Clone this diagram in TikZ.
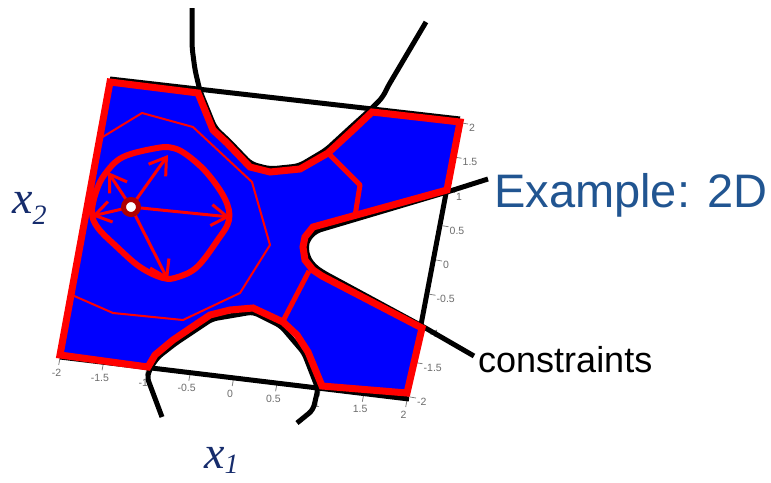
\documentclass[tikz,border=0pt]{standalone}
\usepackage{fontspec}
\setmainfont{Liberation Serif}
\setsansfont{Liberation Sans}
\usetikzlibrary{arrows.meta}
\definecolor{ttlblue}{RGB}{33,85,145}
\definecolor{axnavy}{RGB}{22,44,108}
\definecolor{ringred}{RGB}{175,0,0}
\definecolor{feasblue}{RGB}{0,0,255}
\definecolor{bordred}{RGB}{255,0,0}
\begin{document}
\begin{tikzpicture}[x=1pt,y=-1pt,
  cons/.style={line width=5pt, black, line join=round},
  border/.style={line width=7pt, draw=bordred, fill=feasblue, line join=miter},
  divider/.style={line width=5pt, bordred, line join=round},
  thincont/.style={line width=2pt, bordred, line join=round},
  thickcont/.style={line width=6pt, bordred},
  grad/.style={line width=3pt, bordred, -{Straight Barb[length=16pt,width=21pt]}},
  axtick/.style={line width=0.8pt, gray},
  ticklab/.style={font=\sffamily\fontsize{10.5}{10.5}\selectfont, text=gray!85!black, inner sep=0pt},
  bigsans/.style={font=\sffamily\fontsize{47}{47}\selectfont, text=ttlblue, inner sep=0pt},
  midsans/.style={font=\sffamily\fontsize{36}{36}\selectfont, text=black, inner sep=0pt},
  axlab/.style={text=axnavy, inner sep=0pt}
]
\useasboundingbox (0,0) rectangle (771,482);

% axis ticks and labels
\foreach \v/\t in {-2/-2,-1.5/-1.5,-1/-1,-0.5/-0.5,0/0,0.5/0.5,1/1,1.5/1.5,2/2}{
  \draw[axtick] ({233.5+86.75*\v},{379+10.5*\v}) -- ++(-1.3,7);
  \node[ticklab] (xl\t) at ({230+86.75*\v},{393.5+10.5*\v}) {\t};
  \draw[axtick] ({436+13*\v},{260-68.5*\v}) -- ++(6,1);
  \node[ticklab, anchor=west] (yl\t) at ({443+13*\v},{265-68.5*\v}) {\t};
}

% constraint curves (black)
\draw[cons, rounded corners=6pt] (192,8) -- (192,47) -- (195,70) -- (200,91) -- (215,128) -- (229,141)
  -- (251,164) -- (270,169) -- (299,166) -- (326,150) -- (351,127) -- (371,109) -- (383,97) -- (387,88) -- (426,22);
\draw[cons] (110,79) -- (460,119);
\draw[cons] (60,357) -- (409,399);
\draw[cons, rounded corners=5pt] (162,417) -- (147,377) -- (151,367) -- (158,357) -- (176,343) -- (212,319)
  -- (253,312) -- (281,326) -- (304,353) -- (318,389) -- (313,410) -- (297,423);
\draw[cons] (447,188) -- (420,330);
\draw[cons, rounded corners=5pt] (488,179) -- (447,192) -- (316,231) -- (308,239) -- (306,247) -- (308,258)
  -- (315,267) -- (324,273) -- (422,326) -- (474,356);

% feasible region
\draw[border] (110,82) -- (198,93) -- (213,130) -- (227,143) -- (250,167) -- (270,172) -- (300,169)
  -- (328,153) -- (353,130) -- (372,112) -- (460,122) -- (447,190) -- (313,227) -- (305,237)
  -- (303,247) -- (305,260) -- (313,270) -- (322,276) -- (422,328) -- (407,393) -- (322,386)
  -- (308,352) -- (297,335) -- (283,322) -- (253,308) -- (230,310) -- (210,315) -- (173,340)
  -- (155,355) -- (148,367) -- (60,355) -- cycle;

% internal dividers
\draw[divider] (328,153) -- (360,185) -- (355,216);
\draw[divider] (309,271) -- (282,323);

% thin contour
\draw[thincont] (101,138) -- (142,113) -- (193,127) -- (252,182) -- (270,245) -- (240,293)
  -- (183,320) -- (113,313) -- (72,295);

% thick contour
\draw[thickcont] plot[smooth cycle, tension=0.6] coordinates {
  (157,148) (123,157) (105,174) (96,192) (92,213) (98,228) (117,247) (140,267) (163,278)
  (178,277) (197,267) (217,241) (229,220) (225,199) (207,173) (187,155) (173,148)};

% gradient arrows
\coordinate (pc) at (131,207);
\coordinate (tNE) at (168,155);
\coordinate (tNW) at (108,172);
\coordinate (tW) at (92,216);
\coordinate (tE) at (230,217);
\coordinate (tS) at (168,280);
\foreach \tp in {tNE,tNW,tW,tE,tS}{
  \draw[grad] (pc) -- (\tp);
}
\node[circle, fill=white, draw=ringred, line width=5pt, minimum size=15pt, inner sep=0pt] (pt) at (pc) {};

% labels
\node[bigsans, anchor=base west] (ex) at (494,207) {Example: 2D};
\node[midsans, anchor=base west] (cn) at (478,372) {constraints};
\node[axlab, anchor=base west] (x2) at (12,213)
  {\fontsize{46}{46}\selectfont\itshape x\raisebox{-11pt}{\fontsize{28}{28}\selectfont 2}};
\node[axlab, anchor=base west] (x1) at (204,468)
  {\fontsize{46}{46}\selectfont\itshape x\raisebox{-5pt}{\fontsize{28}{28}\selectfont 1}};
\end{tikzpicture}
\end{document}
